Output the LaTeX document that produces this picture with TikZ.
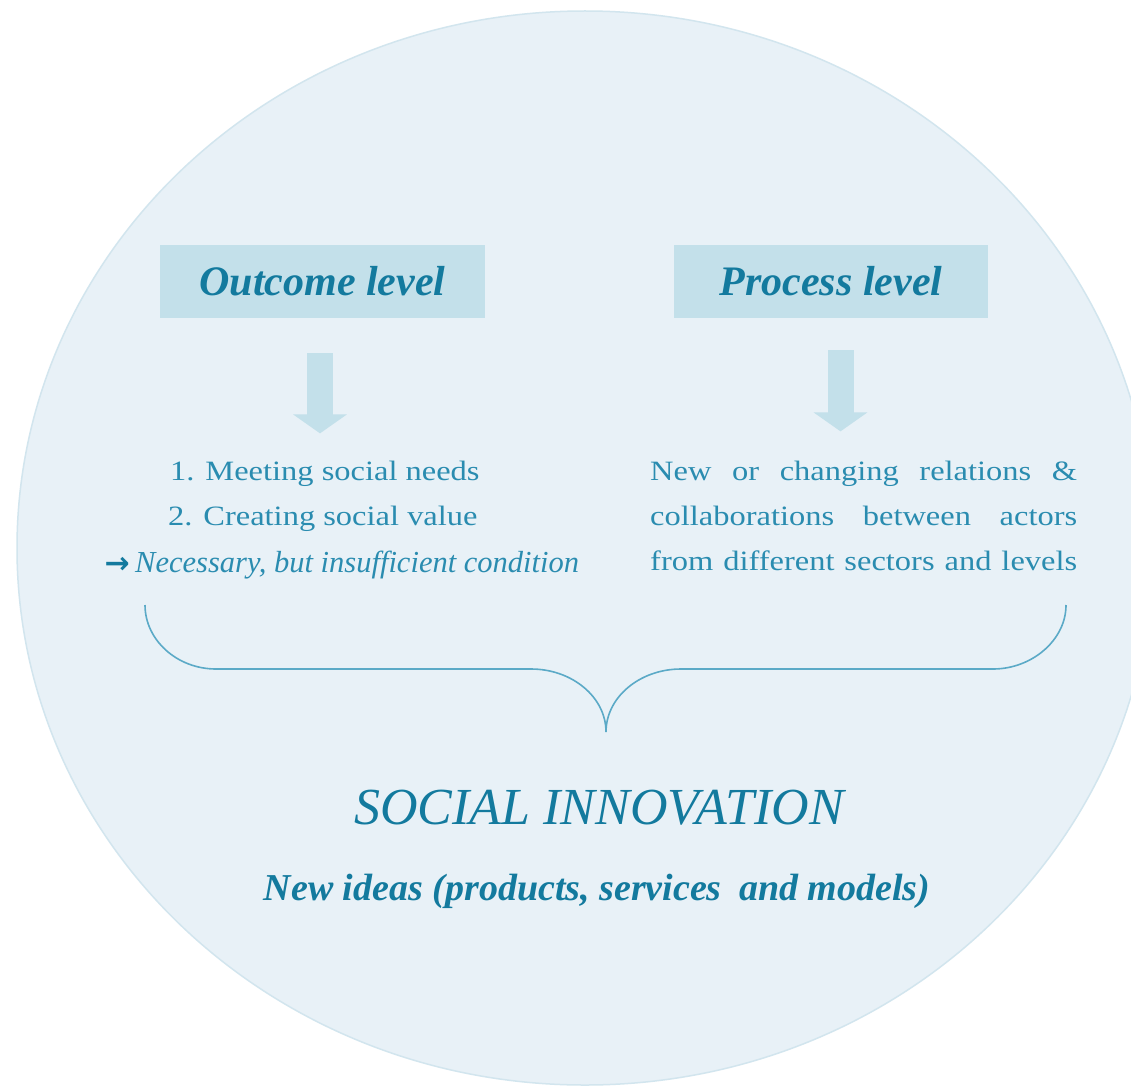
\documentclass[tikz,border=0pt]{standalone}
\usepackage{fontspec}
\setmainfont{Liberation Serif}
\newfontfamily\bodyfont[FakeStretch=1.16]{Liberation Serif}
\newfontfamily\symfont{DejaVu Sans}
\usetikzlibrary{arrows.meta}

\definecolor{disc}{HTML}{E8F1F7}
\definecolor{discedge}{HTML}{D2E5EE}
\definecolor{panel}{HTML}{C3E0EA}
\definecolor{ink}{HTML}{137A9E}
\definecolor{inklight}{HTML}{2A8CB0}
\definecolor{bracecol}{HTML}{5BAAC7}

\begin{document}
\begin{tikzpicture}[x=1pt,y=-1pt,
  header/.style={fill=panel, inner sep=0pt, text=ink,
    font=\fontsize{42}{48}\selectfont\bfseries\itshape},
  body/.style={inner sep=0pt, anchor=base west, text=inklight,
    font=\bodyfont\fontsize{28}{33}\selectfont},
  downarrow/.style={draw=panel, line width=26pt,
    -{Triangle[length=19pt,width=53pt]}},
  bracestyle/.style={draw=bracecol, line width=1.6pt}]

\useasboundingbox[fill=white] (0,0) rectangle (1131,1086);

% backdrop disc
\draw[fill=disc, draw=discedge, line width=1.5pt]
  (585,548) ellipse [x radius=568, y radius=537];

% the two levels
\node[header, minimum width=325pt, minimum height=73pt] (outcome) at (322.5,281.5) {Outcome level};
\node[header, minimum width=314pt, minimum height=73pt] (process) at (831,281.5) {Process level};

% outcome level content
\node[body] (need1) at (170,480) {1. Meeting social needs};
\node[body] (need2) at (168,525) {2. Creating social value};
\node[body, font=\fontsize{30.5}{35}\selectfont\itshape] (cond) at (135,572)
  {Necessary, but insufficient condition};
\node[inner sep=0pt, anchor=base east, text=ink,
  font=\symfont\bfseries\fontsize{30}{34}\selectfont] (condarrow)
  at ([xshift=-5pt,yshift=-1pt]cond.base west) {→};

% process level content
\node[body] (rel1) at (650,480) {\makebox[427pt][s]{New or changing relations \&}};
\node[body] (rel2) at (650,525) {\makebox[427pt][s]{collaborations between actors}};
\node[body] (rel3) at (650,570) {\makebox[427pt][s]{from different sectors and levels}};

% block arrows
\coordinate (oTop) at ([xshift=-2.5pt,yshift=-35pt]outcome.south);
\coordinate (oTip) at (oTop |- need1.north);
\coordinate (pTop) at ([xshift=9.5pt,yshift=-32pt]process.south);
\coordinate (pTip) at (pTop |- rel1.north);
\draw[downarrow] (oTop) -- ([yshift=27pt]oTip);
\draw[downarrow] (pTop) -- ([yshift=29pt]pTip);

% brace gathering both levels
\coordinate (bL) at (145,605);
\coordinate (bR) at (1066,605);
\coordinate (bTip) at (606,732);
\draw[bracestyle] (bL) .. controls (145,640) and (177,669) .. (216,669)
  -- (531,669) .. controls (572,669) and (606,697) .. (bTip)
  .. controls (606,697) and (640,669) .. (681,669)
  -- (993,669) .. controls (1032,669) and (1066,640) .. (bR);

% result
\node[inner sep=0pt, anchor=base, text=ink, font=\fontsize{52}{60}\selectfont\itshape]
  (si) at (599,824) {SOCIAL INNOVATION};
\node[inner sep=0pt, anchor=base, text=ink, font=\fontsize{38}{44}\selectfont\bfseries\itshape]
  (ideas) at (597,900) {New ideas (products, services\hspace{8pt} and models)};
\end{tikzpicture}
\end{document}
